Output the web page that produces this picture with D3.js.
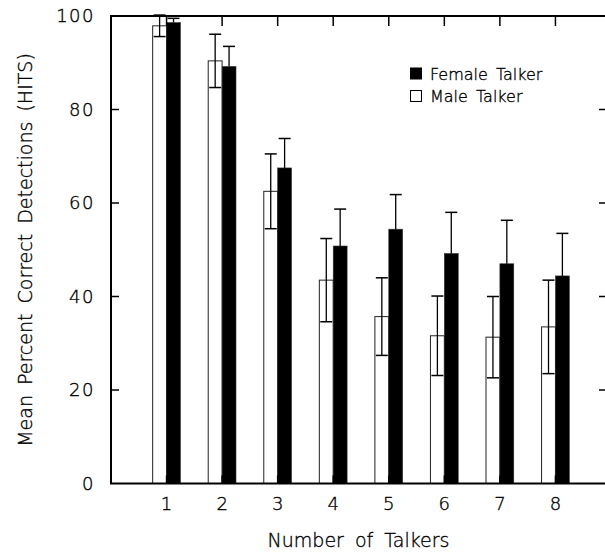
<!DOCTYPE html>
<html><head><meta charset="utf-8">
<script src="https://cdn.jsdelivr.net/npm/d3@7"></script>
<style>
body{margin:0;background:#fff;}
text{font-family:"DejaVu Sans",sans-serif;font-weight:200;fill:#000;stroke:#000;stroke-width:0.35px;}
</style></head>
<body><svg id="c" width="605" height="558"></svg>
<script>
const categories = [1,2,3,4,5,6,7,8];
const maleValues   = [97.9, 90.4, 62.5, 43.5, 35.7, 31.6, 31.3, 33.5];
const maleErrors   = [2.3, 5.7, 8.0, 8.9, 8.3, 8.5, 8.7, 10.0];
const femaleValues = [98.6, 89.2, 67.5, 50.8, 54.4, 49.2, 47.0, 44.4];
const femaleErrors = [0.9, 4.3, 6.3, 7.9, 7.4, 8.8, 9.3, 9.1];
const yTicks = [0,20,40,60,80,100];
const seriesNames = ["Female Talker","Male Talker"];

const svg = d3.select("#c");
const L = 111, R = 606, T = 16, B = 483.5;
const x = d3.scaleLinear().domain([0,9]).range([L, 611]);
const y = d3.scaleLinear().domain([0,100]).range([B, T]);
const bw = x(0.25) - x(0);
const cap = 6;

// bars
const g = svg.append("g");
categories.forEach((c,i)=>{
  g.append("rect").attr("x", x(c)-bw).attr("y", y(maleValues[i]))
   .attr("width", bw).attr("height", y(0)-y(maleValues[i]))
   .attr("fill","#fff").attr("stroke","#222").attr("stroke-width",1);
  g.append("rect").attr("x", x(c)).attr("y", y(femaleValues[i]))
   .attr("width", bw).attr("height", y(0)-y(femaleValues[i]))
   .attr("fill","#000").attr("stroke","#333").attr("stroke-width",0.6);
});
// error bars
categories.forEach((c,i)=>{
  const mx = x(c)-bw/2;
  const lo = y(maleValues[i]-maleErrors[i]), hi = y(Math.min(100.3, maleValues[i]+maleErrors[i]));
  g.append("line").attr("x1",mx).attr("x2",mx).attr("y1",lo).attr("y2",hi).attr("stroke","#000").attr("stroke-width",1.3);
  [lo,hi].forEach(v=>g.append("line").attr("x1",mx-cap).attr("x2",mx+cap).attr("y1",v).attr("y2",v).attr("stroke","#000").attr("stroke-width",1.5));
  const fx = x(c)+bw/2;
  const fhi = y(femaleValues[i]+femaleErrors[i]);
  g.append("line").attr("x1",fx).attr("x2",fx).attr("y1",y(femaleValues[i])).attr("y2",fhi).attr("stroke","#000").attr("stroke-width",1.3);
  g.append("line").attr("x1",fx-cap).attr("x2",fx+cap).attr("y1",fhi).attr("y2",fhi).attr("stroke","#000").attr("stroke-width",1.5);
});

// frame
svg.append("rect").attr("x",L).attr("y",T).attr("width",R-L).attr("height",B-T)
  .attr("fill","none").attr("stroke","#000").attr("stroke-width",2);

// y ticks inward left and right
yTicks.forEach(v=>{
  if(v>0 && v<100){
    svg.append("line").attr("x1",L).attr("x2",L+8).attr("y1",y(v)).attr("y2",y(v)).attr("stroke","#000").attr("stroke-width",1.5);
    svg.append("line").attr("x1",R-7).attr("x2",R).attr("y1",y(v)).attr("y2",y(v)).attr("stroke","#000").attr("stroke-width",1.5);
  }
  svg.append("text").attr("x",95).attr("y",y(v)).attr("dy","0.36em")
    .attr("text-anchor","end").style("font-size","18px").style("letter-spacing","1.5px").text(v);
});
// x ticks top (inward) and bottom
categories.forEach(c=>{
  svg.append("line").attr("x1",x(c)).attr("x2",x(c)).attr("y1",T).attr("y2",T+10).attr("stroke","#000").attr("stroke-width",1.5);
  svg.append("line").attr("x1",x(c)).attr("x2",x(c)).attr("y1",B).attr("y2",B-8).attr("stroke","#000").attr("stroke-width",1.5);
  svg.append("text").attr("x",x(c)).attr("y",510).attr("text-anchor","middle").style("font-size","18px").text(c);
});

// axis titles
svg.append("text").attr("x",(L+R)/2).attr("y",547).attr("text-anchor","middle")
  .style("font-size","19px").style("word-spacing","5px").text("Number of Talkers");
svg.append("text").attr("transform","translate(32,250) rotate(-90)").attr("text-anchor","middle")
  .style("font-size","19px").style("word-spacing","4px").text("Mean Percent Correct Detections (HITS)");

// legend
const legY = [68, 90.5];
seriesNames.forEach((s,i)=>{
  svg.append("rect").attr("x",410.5).attr("y",legY[i]).attr("width",11).attr("height",11)
    .attr("fill", i===0?"#000":"#fff").attr("stroke","#000").attr("stroke-width",1);
  svg.append("text").attr("x",430).attr("y",legY[i]+11.5).style("font-size","16px").style("word-spacing","3px").text(s);
});
</script></body></html>
